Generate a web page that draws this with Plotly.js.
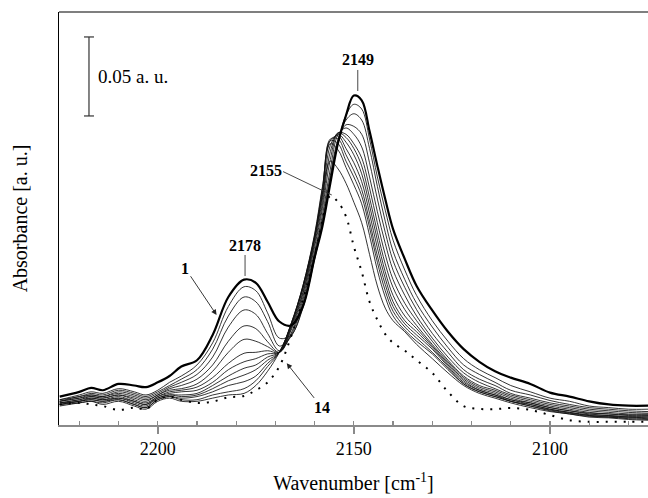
<!DOCTYPE html>
<html>
<head>
<meta charset="utf-8">
<script src="https://cdn.plot.ly/plotly-3.0.1.min.js"></script>
<style>html,body{margin:0;padding:0;background:#fff}#chart{width:648px;height:498px}</style>
</head>
<body>
<div id="chart"></div>
<script>
// Wavenumber grid (cm^-1)
const wavenumber = [2225,2220,2217,2214,2210,2206,2203,2200,2197,2194,2190,2186,2182,2178,2175,2172,2169,2166,2163,2160,2158,2156,2154,2152,2150,2148,2146,2144,2142,2140,2137,2134,2130,2126,2122,2118,2114,2110,2105,2100,2095,2090,2085,2080,2075];

// Absorbance spectra 1..14 (a. u.)
const spec1  = [.018,.021,.0235,.022,.026,.025,.024,.027,.031,.037,.041,.057,.081,.092,.090,.078,.0655,.063,.075,.106,.126,.153,.179,.196,.2085,.2055,.186,.164,.143,.124,.105,.088,.0725,.059,.048,.040,.034,.030,.026,.0205,.018,.015,.013,.0122,.0122];
const spec2  = [.016,.019,.021,.020,.023,.021,.019,.022,.027,.031,.038,.052,.075,.0875,.085,.071,.055,.057,.074,.105,.127,.154,.179,.196,.203,.200,.181,.157,.136,.117,.098,.082,.066,.053,.042,.035,.030,.025,.021,.017,.015,.012,.011,.010,.010];
const spec3  = [.016,.018,.020,.019,.022,.020,.018,.021,.025,.029,.035,.048,.069,.081,.078,.0655,.050,.056,.075,.106,.128,.156,.180,.193,.197,.193,.175,.151,.129,.110,.092,.077,.062,.049,.038,.032,.027,.022,.019,.0155,.013,.011,.010,.009,.0085];
const spec4  = [.015,.018,.019,.018,.021,.019,.017,.020,.024,.027,.032,.043,.062,.0728,.070,.058,.047,.057,.077,.108,.130,.158,.181,.190,.189,.184,.166,.143,.122,.104,.087,.073,.058,.046,.035,.029,.025,.020,.017,.014,.012,.010,.009,.008,.0075];
const spec5  = [.015,.017,.019,.018,.020,.018,.016,.019,.023,.025,.029,.038,.053,.0627,.061,.0527,.046,.058,.079,.110,.133,.162,.184,.188,.184,.176,.157,.135,.115,.098,.082,.069,.055,.043,.033,.027,.023,.019,.016,.013,.011,.009,.008,.007,.007];
const spec6  = [.015,.017,.018,.017,.019,.017,.015,.019,.022,.023,.026,.034,.046,.0542,.053,.0496,.046,.060,.081,.113,.137,.168,.185,.184,.178,.169,.150,.128,.108,.092,.077,.066,.053,.041,.031,.025,.022,.018,.015,.012,.010,.008,.007,.0065,.0065];
const spec7  = [.014,.016,.018,.017,.019,.016,.014,.018,.021,.022,.024,.030,.039,.0454,.046,.047,.046,.061,.083,.115,.140,.173,.185,.182,.175,.164,.144,.122,.102,.087,.073,.063,.051,.040,.030,.024,.021,.017,.014,.011,.009,.0075,.007,.006,.006];
const spec8  = [.014,.016,.017,.016,.018,.015,.013,.018,.020,.021,.022,.027,.035,.040,.042,.045,.046,.062,.084,.117,.143,.177,.184,.179,.171,.159,.139,.117,.097,.082,.069,.061,.050,.039,.029,.023,.020,.016,.014,.011,.009,.007,.006,.0055,.0055];
const spec9  = [.014,.015,.017,.016,.017,.015,.013,.017,.019,.019,.020,.025,.031,.0359,.038,.043,.046,.063,.086,.118,.146,.180,.183,.175,.166,.154,.134,.112,.093,.078,.066,.059,.049,.038,.028,.022,.019,.016,.013,.010,.008,.0065,.006,.005,.005];
const spec10 = [.013,.015,.016,.015,.017,.014,.012,.017,.019,.018,.019,.023,.028,.0316,.035,.041,.046,.064,.087,.119,.148,.181,.181,.171,.161,.149,.129,.107,.089,.075,.064,.057,.048,.037,.027,.022,.019,.015,.013,.010,.008,.006,.0055,.005,.0045];
const spec11 = [.013,.015,.016,.015,.016,.013,.011,.016,.018,.017,.018,.021,.025,.0274,.031,.039,.046,.064,.088,.120,.150,.180,.178,.167,.157,.145,.125,.103,.085,.072,.062,.055,.046,.036,.026,.021,.018,.015,.012,.0095,.0075,.006,.005,.0045,.004];
const spec12 = [.013,.014,.015,.014,.016,.013,.011,.016,.018,.016,.016,.019,.021,.023,.028,.037,.046,.064,.088,.121,.151,.178,.174,.163,.152,.140,.120,.098,.081,.069,.060,.053,.045,.035,.026,.021,.018,.015,.012,.009,.007,.0055,.005,.004,.0035];
const spec13 = [.012,.014,.015,.013,.015,.012,.010,.015,.017,.015,.015,.017,.019,.020,.025,.034,.046,.063,.087,.119,.146,.167,.162,.153,.141,.128,.108,.088,.074,.066,.059,.051,.042,.033,.025,.020,.017,.014,.011,.0085,.007,.005,.0045,.0035,.003];
const spec14 = [.013,.014,.013,.012,.0095,.011,.010,.016,.018,.016,.014,.0148,.0175,.0184,.022,.027,.037,.056,.079,.107,.130,.145,.141,.132,.113,.097,.078,.0665,.0575,.052,.047,.041,.033,.021,.012,.0102,.010,.0108,.0095,.0063,.003,.002,.002,.002,.002];

const xTicks = [2200, 2150, 2100];
const peakLabels = ['2149', '2155', '2178'];
const curveLabels = ['1', '14'];

const SERIF = 'Liberation Serif';
const thin = [spec2,spec3,spec4,spec5,spec6,spec7,spec8,spec9,spec10,spec11,spec12,spec13];
const traces = thin.map(s => ({x: wavenumber, y: s, mode: 'lines', line: {color: '#111', width: 0.85, shape: 'spline', smoothing: 1}, hoverinfo: 'skip'}));
traces.push({x: wavenumber, y: spec14, mode: 'lines', line: {color: '#000', width: 2, dash: '2px,7px', shape: 'spline', smoothing: 1}, hoverinfo: 'skip'});
traces.push({x: wavenumber, y: spec1, mode: 'lines', line: {color: '#000', width: 2.2, shape: 'spline', smoothing: 1}, hoverinfo: 'skip'});

const bold = {family: SERIF, size: 16, color: '#000', weight: 'bold'};
const layout = {
  width: 648, height: 498,
  margin: {l: 59, r: 0, t: 12, b: 73},
  paper_bgcolor: '#fff', plot_bgcolor: '#fff',
  showlegend: false,
  font: {family: SERIF, color: '#000', size: 18},
  xaxis: {
    range: [2225.18, 2075.0], tickvals: xTicks, ticktext: xTicks.map(String),
    ticks: 'outside', ticklen: 7, tickwidth: 1.5, tickcolor: '#8a8a8a',
    showline: true, linecolor: '#8a8a8a', linewidth: 1.5,
    showgrid: false, zeroline: false,
    tickfont: {family: SERIF, size: 18, color: '#000'},
    minor: {ticks: 'inside', dtick: 10, tick0: 2100, ticklen: 4, tickwidth: 1.2, tickcolor: '#8a8a8a'},
    title: {text: 'Wavenumber [cm<sup>-1</sup>]', font: {family: SERIF, size: 20, color: '#000'}, standoff: 18}
  },
  yaxis: {
    range: [0, 0.2614], showticklabels: false, ticks: '',
    showgrid: false, zeroline: false, showline: true, linecolor: '#000', linewidth: 1.2,
    title: {text: 'Absorbance [a. u.]', font: {family: SERIF, size: 20, color: '#000'}, standoff: 24}
  },
  shapes: [
    {type: 'line', xref: 'paper', yref: 'paper', x0: 0, x1: 1, y0: 1, y1: 1, line: {color: '#000', width: 1.2}},
    // scale bar 0.05 a.u.
    {type: 'line', xref: 'paper', yref: 'y', x0: 0.0509, x1: 0.0509, y0: 0.1956, y1: 0.2456, line: {color: '#333', width: 1.2}},
    {type: 'line', xref: 'paper', yref: 'y', x0: 0.0424, x1: 0.0594, y0: 0.2456, y1: 0.2456, line: {color: '#333', width: 1.2}},
    {type: 'line', xref: 'paper', yref: 'y', x0: 0.0424, x1: 0.0594, y0: 0.1956, y1: 0.1956, line: {color: '#333', width: 1.2}},
    // leader lines
    {type: 'line', xref: 'x', yref: 'y', x0: 2149, x1: 2149, y0: 0.2247, y1: 0.2114, line: {color: '#333', width: 0.9}},
    {type: 'line', xref: 'x', yref: 'y', x0: 2168.05, x1: 2155.63, y0: 0.1604, y1: 0.1456, line: {color: '#333', width: 0.9}},
    {type: 'line', xref: 'x', yref: 'y', x0: 2177.74, x1: 2177.74, y0: 0.1076, y1: 0.0943, line: {color: '#333', width: 0.9}}
  ],
  annotations: [
    {xref: 'paper', yref: 'y', x: 0.0628, y: 0.2203, xanchor: 'left', yanchor: 'middle', text: '0.05 a. u.', showarrow: false, font: {family: SERIF, size: 19, color: '#000'}},
    {xref: 'x', yref: 'y', x: 2148.93, y: 0.2316, text: '<b>' + peakLabels[0] + '</b>', showarrow: false, font: bold},
    {xref: 'x', yref: 'y', x: 2172.46, y: 0.1614, text: '<b>' + peakLabels[1] + '</b>', showarrow: false, font: bold},
    {xref: 'x', yref: 'y', x: 2177.74, y: 0.1139, text: '<b>' + peakLabels[2] + '</b>', showarrow: false, font: bold},
    {xref: 'x', yref: 'y', x: 2185.0, y: 0.0696, ax: -31.5, ay: -47, text: '<b>' + curveLabels[0] + '</b>', font: bold, showarrow: true, arrowhead: 2, arrowsize: 1.2, arrowwidth: 0.9, arrowcolor: '#222', standoff: 0},
    {xref: 'x', yref: 'y', x: 2167.11, y: 0.0391, ax: 35.3, ay: 44.7, text: '<b>' + curveLabels[1] + '</b>', font: bold, showarrow: true, arrowhead: 2, arrowsize: 1.2, arrowwidth: 0.9, arrowcolor: '#222', standoff: 0}
  ]
};
Plotly.newPlot('chart', traces, layout, {staticPlot: true, displayModeBar: false});
</script>
</body>
</html>
